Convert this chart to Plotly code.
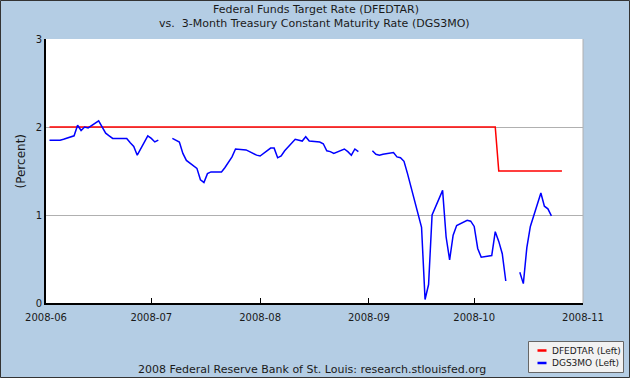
import plotly.graph_objects as go

# --- Data ---
dgs3mo_dates = [
    "2008-06-02", "2008-06-03", "2008-06-04", "2008-06-05", "2008-06-06",
    "2008-06-09", "2008-06-10", "2008-06-11", "2008-06-12", "2008-06-13",
    "2008-06-16", "2008-06-17", "2008-06-18", "2008-06-19", "2008-06-20",
    "2008-06-23", "2008-06-24", "2008-06-25", "2008-06-26", "2008-06-27",
    "2008-06-30", "2008-07-01", "2008-07-02", "2008-07-03", "2008-07-04",
    "2008-07-07", "2008-07-08", "2008-07-09", "2008-07-10", "2008-07-11",
    "2008-07-14", "2008-07-15", "2008-07-16", "2008-07-17", "2008-07-18",
    "2008-07-21", "2008-07-22", "2008-07-23", "2008-07-24", "2008-07-25",
    "2008-07-28", "2008-07-29", "2008-07-30", "2008-07-31", "2008-08-01",
    "2008-08-04", "2008-08-05", "2008-08-06", "2008-08-07", "2008-08-08",
    "2008-08-11", "2008-08-12", "2008-08-13", "2008-08-14", "2008-08-15",
    "2008-08-18", "2008-08-19", "2008-08-20", "2008-08-21", "2008-08-22",
    "2008-08-25", "2008-08-26", "2008-08-27", "2008-08-28", "2008-08-29",
    "2008-09-01", "2008-09-02", "2008-09-03", "2008-09-04", "2008-09-05",
    "2008-09-08", "2008-09-09", "2008-09-10", "2008-09-11", "2008-09-12",
    "2008-09-15", "2008-09-16", "2008-09-17", "2008-09-18", "2008-09-19",
    "2008-09-22", "2008-09-23", "2008-09-24", "2008-09-25", "2008-09-26",
    "2008-09-29", "2008-09-30", "2008-10-01", "2008-10-02", "2008-10-03",
    "2008-10-06", "2008-10-07", "2008-10-08", "2008-10-09", "2008-10-10",
    "2008-10-13", "2008-10-14", "2008-10-15", "2008-10-16", "2008-10-17",
    "2008-10-20", "2008-10-21", "2008-10-22", "2008-10-23",
]
dgs3mo_values = [
    1.85, 1.85, 1.85, 1.85, 1.86,
    1.90, 2.02, 1.96, 2.00, 1.99,
    2.07, 2.00, 1.93, 1.90, 1.87,
    1.87, 1.87, 1.82, 1.78, 1.68,
    1.90, 1.87, 1.83, 1.85, None,
    1.87, 1.85, 1.83, 1.70, 1.62,
    1.53, 1.40, 1.37, 1.47, 1.49,
    1.49, 1.54, 1.60, 1.66, 1.75,
    1.74, 1.72, 1.70, 1.68, 1.67,
    1.76, 1.76, 1.65, 1.67, 1.73,
    1.86, 1.85, 1.84, 1.89, 1.84,
    1.83, 1.81, 1.73, 1.72, 1.70,
    1.75, 1.72, 1.68, 1.75, 1.72,
    None, 1.73, 1.69, 1.68, 1.69,
    1.71, 1.66, 1.65, 1.61, 1.47,
    1.00, 0.86, 0.04, 0.21, 1.00,
    1.28, 0.75, 0.49, 0.77, 0.88,
    0.94, 0.93, 0.87, 0.62, 0.52,
    0.54, 0.81, 0.70, 0.56, 0.25,
    None, 0.35, 0.22, 0.63, 0.87,
    1.25, 1.10, 1.07, 0.99,
]

dfedtar_dates = ["2008-06-02", "2008-10-07", "2008-10-08", "2008-10-26"]
dfedtar_values = [2.0, 2.0, 1.5, 1.5]

series_names = ["DFEDTAR (Left)", "DGS3MO (Left)"]
series_colors = ["#FF0000", "#0000FF"]

x_tick_vals = ["2008-06-01", "2008-07-01", "2008-08-01", "2008-09-01", "2008-10-01", "2008-11-01"]
x_tick_text = ["2008-06", "2008-07", "2008-08", "2008-09", "2008-10", "2008-11"]
y_tick_vals = [0, 1, 2, 3]

title_line1 = "Federal Funds Target Rate (DFEDTAR)"
title_line2 = "vs.&nbsp; 3-Month Treasury Constant Maturity Rate (DGS3MO)"
footer_text = "2008 Federal Reserve Bank of St. Louis: research.stlouisfed.org"

FONT = "DejaVu Sans"
BG = "#B4CDE4"
TXT = "#1a1a1a"

fig = go.Figure()
fig.add_trace(go.Scatter(
    x=dfedtar_dates, y=dfedtar_values, mode="lines", name=series_names[0],
    line=dict(color=series_colors[0], width=1.5), showlegend=False,
))
fig.add_trace(go.Scatter(
    x=dgs3mo_dates, y=dgs3mo_values, mode="lines", name=series_names[1],
    line=dict(color=series_colors[1], width=1.5), connectgaps=False,
    showlegend=False,
))

L, R, T, B = 46, 47, 39, 75
W, H = 630, 378
pw, ph = W - L - R, H - T - B

def px_x(px):
    return (px - L) / pw

def px_y(py):
    return (H - B - py) / ph

def txt(text, x, y, size, angle=0, anchor="center"):
    return dict(text=text, textangle=angle, x=px_x(x), y=px_y(y),
                xref="paper", yref="paper", showarrow=False,
                xanchor=anchor, yanchor="middle",
                font=dict(family=FONT, size=size, color=TXT))

annotations = [
    txt(title_line1, 316, 9.5, 11),
    txt(title_line2, 314, 24, 11),
    txt("(Percent)", 20.5, 161, 12, angle=-90),
    txt(footer_text, 312, 369, 11),
]

shapes = [
    dict(type="line", xref="paper", yref="paper", x0=1, x1=1, y0=0, y1=1,
         line=dict(color="#B0B0B0", width=1), layer="below"),
    dict(type="rect", xref="paper", yref="paper",
         x0=px_x(0.5), x1=px_x(629.5), y0=px_y(377.5), y1=px_y(0.5),
         line=dict(color="#333333", width=1), fillcolor="rgba(0,0,0,0)"),
    # legend box
    dict(type="rect", xref="paper", yref="paper",
         x0=px_x(528.5), x1=px_x(623.5), y0=px_y(372.5), y1=px_y(341.5),
         line=dict(color="#666666", width=1), fillcolor="#F2F2F2"),
]

legend_rows_y = [350.5, 363]
for name, color, ry in zip(series_names, series_colors, legend_rows_y):
    shapes.append(dict(type="line", xref="paper", yref="paper",
                       x0=px_x(537.5), x1=px_x(546.5), y0=px_y(ry), y1=px_y(ry),
                       line=dict(color=color, width=2.5)))
    annotations.append(txt(name, 550, ry, 9, anchor="left"))

fig.update_layout(
    width=W, height=H,
    margin=dict(l=L, r=R, t=T, b=B, autoexpand=False),
    paper_bgcolor=BG, plot_bgcolor="white",
    font=dict(family=FONT, size=10, color=TXT),
    xaxis=dict(
        type="date", range=["2008-06-01", "2008-11-01"],
        tickvals=x_tick_vals, ticktext=x_tick_text,
        ticks="inside", ticklen=5, tickwidth=1, tickcolor="black",
        showgrid=False, zeroline=False,
        showline=True, linecolor="black", linewidth=2,
        ticklabelstandoff=4,
        tickfont=dict(size=10, color=TXT),
    ),
    yaxis=dict(
        range=[0, 3], tickvals=y_tick_vals,
        showgrid=True, gridcolor="#B0B0B0", gridwidth=1,
        zeroline=False, showline=True, linecolor="black", linewidth=2,
        ticks="", tickfont=dict(size=10, color=TXT),
    ),
    showlegend=False,
    annotations=annotations,
    shapes=shapes,
)

fig.write_html(
    "out.html",
    config={"displayModeBar": False},
    post_script="document.body.style.margin='0';document.body.style.padding='0';",
)
